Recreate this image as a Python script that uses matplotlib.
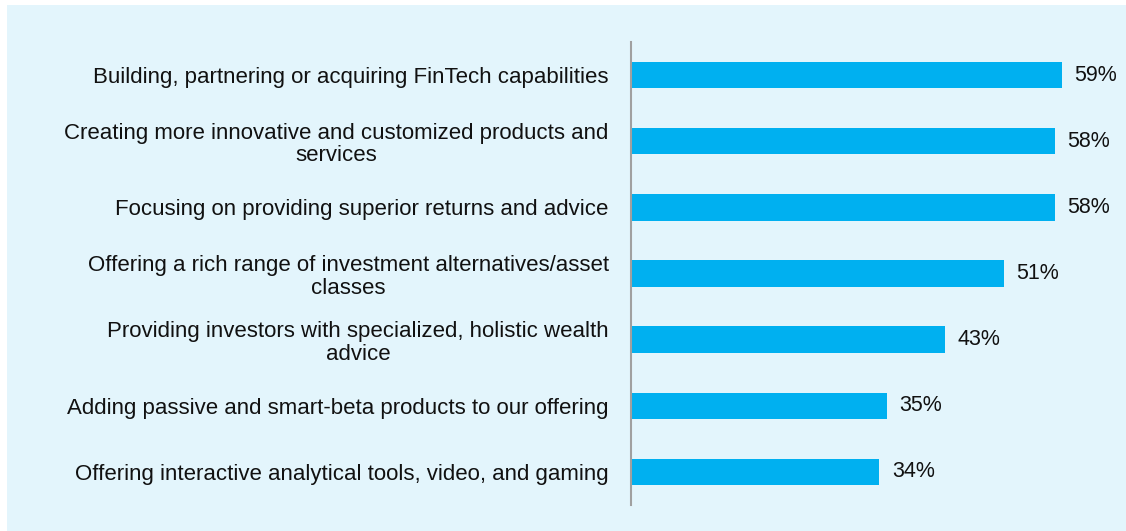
import matplotlib.pyplot as plt
from matplotlib.patches import Rectangle

plt.rcParams['font.family'] = ['Liberation Sans', 'DejaVu Sans']

categories = [
    "Building, partnering or acquiring FinTech capabilities",
    "Creating more innovative and customized products and\nservices",
    "Focusing on providing superior returns and advice",
    "Offering a rich range of investment alternatives/asset\nclasses",
    "Providing investors with specialized, holistic wealth\nadvice",
    "Adding passive and smart-beta products to our offering",
    "Offering interactive analytical tools, video, and gaming",
]
values = [59, 58, 58, 51, 43, 35, 34]

bg = '#E3F5FC'
bar_color = '#00B0F0'

fig = plt.figure(figsize=(11.26, 5.31), dpi=100)
fig.patch.set_facecolor('white')
fig.add_artist(Rectangle((7 / 1126, 0), 1, 1 - 5 / 531, transform=fig.transFigure,
                         facecolor=bg, edgecolor='none', zorder=-10))

ax = fig.add_axes([631 / 1126, 1 - 505 / 531, 475 / 1126, 463 / 531])
ax.set_facecolor('none')

ypos = list(range(len(categories)))
ax.barh(ypos, values, height=0.4, color=bar_color, zorder=2)
for y, v in zip(ypos, values):
    ax.text(v + 1.7, y, f"{v}%", va='center', ha='left', fontsize=15.5, color='#111111')

ax.set_xlim(0, 65)
ax.set_ylim(6.5, -0.5)
ax.set_yticks(ypos)
ax.set_yticklabels(categories, fontsize=16, color='#111111', multialignment='center',
                   linespacing=1.1)
ax.tick_params(axis='y', length=0, pad=16)
ax.set_xticks([])
for s in ['top', 'right', 'bottom']:
    ax.spines[s].set_visible(False)
ax.spines['left'].set_color('#A0A0A0')
ax.spines['left'].set_linewidth(1.5)

fig.savefig('out.png', dpi=100)
